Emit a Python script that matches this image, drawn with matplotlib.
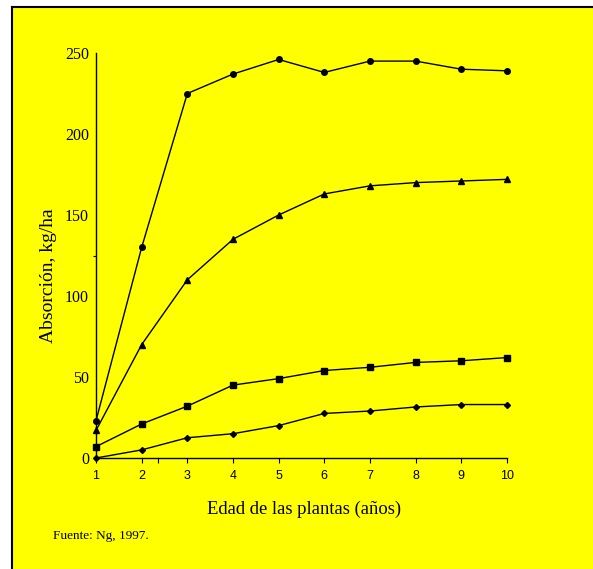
import matplotlib
matplotlib.use('Agg')
import matplotlib.pyplot as plt
from matplotlib.patches import Rectangle
from matplotlib.lines import Line2D

# edad de las plantas (años)
edad = [1, 2, 3, 4, 5, 6, 7, 8, 9, 10]

# absorción, kg/ha
serie_circulo = [23, 130, 225, 237, 246, 238, 245, 245, 240, 239]
serie_triangulo = [17, 70, 110, 135, 150, 163, 168, 170, 171, 172]
serie_cuadrado = [7, 21, 32, 45, 49, 54, 56, 59, 60, 62]
serie_rombo = [0, 5, 12.5, 15, 20, 27.5, 29, 31.5, 33, 33]

y_ticks = [0, 50, 100, 150, 200, 250]
fuente = 'Fuente: Ng, 1997.'

W, H = 593, 569
fig = plt.figure(figsize=(W / 100, H / 100), dpi=100)
fig.patch.set_facecolor('white')

# fondo amarillo con borde negro arriba/izquierda
fig.patches.append(Rectangle((12 / W, 0), 1 - 12 / W, 1 - 7 / H,
                             transform=fig.transFigure, facecolor='#ffff00',
                             edgecolor='none', zorder=-2))
fig.lines.append(Line2D([12 / W, 12 / W], [0, 1 - 7 / H], transform=fig.transFigure,
                        color='black', lw=1.5, zorder=-1))
fig.lines.append(Line2D([12 / W, 1], [1 - 7 / H, 1 - 7 / H], transform=fig.transFigure,
                        color='black', lw=1.5, zorder=-1))

ax = fig.add_axes([96 / W, 111 / H, 411 / W, 405 / H])
ax.set_facecolor('none')

kw = dict(color='black', lw=1, clip_on=False)
ax.plot(edad, serie_circulo, marker='o', ms=4, **kw)
ax.plot(edad, serie_triangulo, marker='^', ms=4, **kw)
ax.plot(edad, serie_cuadrado, marker='s', ms=4, **kw)
ax.plot(edad, serie_rombo, marker='D', ms=3, **kw)

ax.set_xlim(1, 10)
ax.set_ylim(0, 250)
ax.spines['top'].set_visible(False)
ax.spines['right'].set_visible(False)
ax.spines['left'].set_linewidth(1)
ax.spines['bottom'].set_linewidth(1)

ax.set_xticks(edad)
ax.set_xticks([2.36], minor=True)
ax.tick_params(axis='x', which='both', direction='out', length=3.5, width=0.8,
               pad=5, labelsize=9)
for lab in ax.get_xticklabels():
    lab.set_family('Liberation Sans')

ax.set_yticks(y_ticks)
ax.set_yticks([0, 125, 250], minor=True)
ax.tick_params(axis='y', which='major', length=0, pad=5, labelsize=11.5)
ax.tick_params(axis='y', which='minor', direction='out', length=2.5, width=0.8)
for lab in ax.get_yticklabels():
    lab.set_family('Liberation Serif')

fig.text(304 / W, 1 - 509 / H, 'Edad de las plantas (años)', ha='center', va='center',
         family='Liberation Serif', fontsize=13.4)
fig.text(49 / W, 1 - 276 / H, 'Absorción, kg/ha', ha='center', va='center',
         rotation=90, family='Liberation Serif', fontsize=14)
fig.text(53 / W, 1 - 536 / H, fuente, ha='left', va='center',
         family='Liberation Serif', fontsize=9.5)

fig.savefig('out.png', dpi=100, facecolor=fig.get_facecolor())
